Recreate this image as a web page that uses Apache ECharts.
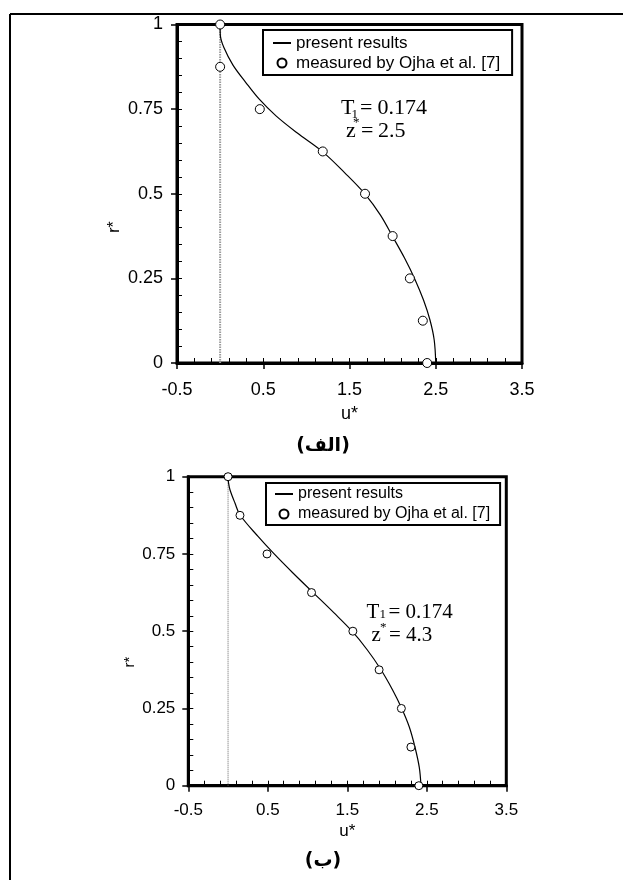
<!DOCTYPE html>
<html>
<head>
<meta charset="utf-8">
<style>
  html, body { margin: 0; padding: 0; background: #fff; }
  #chart { width: 623px; height: 880px; }
</style>
<script src="https://cdn.jsdelivr.net/npm/echarts@6/dist/echarts.min.js"></script>
</head>
<body>
<div id="chart"></div>
<script>
// Radial positions of the measured points
const rMeasured = [1, 0.875, 0.75, 0.625, 0.5, 0.375, 0.25, 0.125, 0];

// Case (الف): z* = 2.5
const uMeasuredA = [0, 0, 0.46, 1.19, 1.68, 2.0, 2.2, 2.35, 2.4];
const uCurveA = [0, 0.002, 0.045, 0.149, 0.294, 0.451, 0.648, 0.891, 1.193, 1.448, 1.68, 1.859, 2.001, 2.138, 2.259, 2.358, 2.433, 2.482, 2.5];
const rCurveA = [1, 0.969, 0.931, 0.880, 0.830, 0.780, 0.730, 0.680, 0.623, 0.561, 0.499, 0.437, 0.373, 0.310, 0.247, 0.186, 0.127, 0.068, 0];

// Case (ب): z* = 4.3
const uMeasuredB = [0, 0.15, 0.49, 1.05, 1.57, 1.90, 2.18, 2.30, 2.40];
const uCurveB = [0, 0.006, 0.025, 0.088, 0.151, 0.38, 0.58, 0.81, 1.07, 1.33, 1.56, 1.75, 1.92, 2.07, 2.185, 2.28, 2.35, 2.405, 2.427];
const rCurveB = [1, 0.98, 0.957, 0.914, 0.876, 0.806, 0.75, 0.69, 0.625, 0.56, 0.5, 0.44, 0.377, 0.31, 0.25, 0.19, 0.126, 0.06, 0];

// Reference line u* = 0
const uZero = [0, 0];
const rZero = [0, 1];

// Axis ticks
const uMajorTicks = [-0.5, 0.5, 1.5, 2.5, 3.5];
const uMinorTicks = [-0.5, -0.3, -0.1, 0.1, 0.3, 0.5, 0.7, 0.9, 1.1, 1.3, 1.5, 1.7, 1.9, 2.1, 2.3, 2.5, 2.7, 2.9, 3.1, 3.3, 3.5];

const NAME_LINE = 'present results';
const NAME_PTS = 'measured by Ojha et al. [7]';
const SANS = 'Liberation Sans, Arial, sans-serif';
const SERIF = 'Liberation Serif, Times New Roman, serif';

const pairs = (xs, ys) => xs.map((x, i) => [x, ys[i]]);

const grids = [
  { left: 177, top: 24.5, width: 345, height: 338.5 },
  { left: 188.3, top: 476.7, width: 318, height: 309 }
];
const tickFonts = [18, 17];
const legendFonts = [17, 16];
const labelMarginX = [18, 16];
const labelMarginY = [14, 13];
const nameGaps = [42, 37];

const xAxes = [], yAxes = [], series = [];
grids.forEach((g, k) => {
  const fs = tickFonts[k];
  xAxes.push({
    gridIndex: k, type: 'value', min: -0.5, max: 3.5, position: 'bottom',
    axisLine: { show: true, onZero: false, lineStyle: { color: '#000', width: 3 } },
    axisTick: { show: true, inside: false, length: 6, customValues: uMajorTicks, lineStyle: { color: '#000', width: 1.5 } },
    axisLabel: { show: true, customValues: uMajorTicks, margin: labelMarginX[k], color: '#000', fontSize: fs, fontFamily: SANS },
    splitLine: { show: false },
    name: 'u*', nameLocation: 'middle', nameGap: nameGaps[k],
    nameTextStyle: { color: '#000', fontSize: fs, fontFamily: SANS }
  });
  xAxes.push({
    gridIndex: k, type: 'value', min: -0.5, max: 3.5, position: 'bottom',
    axisLine: { show: false, onZero: false },
    axisTick: { show: true, inside: true, length: 5, customValues: uMinorTicks, lineStyle: { color: '#000', width: 1 } },
    axisLabel: { show: false },
    splitLine: { show: false }
  });
  yAxes.push({
    gridIndex: k, type: 'value', min: 0, max: 1, interval: 0.25, position: 'left',
    axisLine: { show: true, onZero: false, lineStyle: { color: '#000', width: 3 } },
    axisTick: { show: true, inside: false, length: 6, lineStyle: { color: '#000', width: 1.5 } },
    axisLabel: { show: true, margin: labelMarginY[k], color: '#000', fontSize: fs, fontFamily: SANS },
    splitLine: { show: false }
  });
  yAxes.push({
    gridIndex: k, type: 'value', min: 0, max: 1, interval: 0.05, position: 'left',
    axisLine: { show: false, onZero: false },
    axisTick: { show: true, inside: true, length: 5, lineStyle: { color: '#000', width: 1 } },
    axisLabel: { show: false },
    splitLine: { show: false }
  });
});

const curves = [pairs(uCurveA, rCurveA), pairs(uCurveB, rCurveB)];
const points = [pairs(uMeasuredA, rMeasured), pairs(uMeasuredB, rMeasured)];
const zeroStyles = [
  { color: '#9c9c9c', width: 2, type: [1.5, 1] },
  { color: '#666', width: 1, type: 'dotted' }
];
const symSizes = [9, 8];

grids.forEach((g, k) => {
  series.push({
    name: 'u* = 0', type: 'line', xAxisIndex: 2 * k, yAxisIndex: 2 * k,
    data: pairs(uZero, rZero), symbol: 'none', lineStyle: zeroStyles[k],
    silent: true, z: 1
  });
  series.push({
    name: NAME_LINE, type: 'line', xAxisIndex: 2 * k, yAxisIndex: 2 * k,
    data: curves[k], symbol: 'none', showSymbol: false, smooth: 0.35,
    lineStyle: { color: '#000', width: 1.2 }, itemStyle: { color: '#000' }, z: 2
  });
  series.push({
    name: NAME_PTS, type: 'scatter', xAxisIndex: 2 * k, yAxisIndex: 2 * k,
    data: points[k], symbol: 'circle', symbolSize: symSizes[k], clip: false,
    itemStyle: { color: '#fff', borderColor: '#000', borderWidth: 1, opacity: 1 }, z: 3
  });
});

const legendBase = (k, left, top, pad) => ({
  orient: 'vertical', left, top, padding: pad,
  itemGap: 0, itemWidth: 18, itemHeight: 9,
  borderColor: '#000', borderWidth: 2, backgroundColor: '#fff',
  data: [
    { name: NAME_LINE, itemStyle: { opacity: 0 } },
    { name: NAME_PTS, icon: 'circle' }
  ],
  textStyle: { color: '#000', fontSize: legendFonts[k], fontFamily: SANS, lineHeight: 20 },
  selectedMode: false
});

// Text helper for the annotation pieces
const txt = (x, y, s, size) => ({
  type: 'text', x, y,
  style: { text: s, fill: '#000', font: size + 'px ' + SERIF, textAlign: 'left', textVerticalAlign: 'middle' }
});

const graphic = [
  // page frame
  { type: 'line', shape: { x1: 10, y1: 14, x2: 623, y2: 14 }, style: { stroke: '#000', lineWidth: 2 } },
  { type: 'line', shape: { x1: 10, y1: 14, x2: 10, y2: 880 }, style: { stroke: '#000', lineWidth: 2 } },
  // r* axis titles
  { type: 'text', x: 115, y: 227, rotation: Math.PI / 2,
    style: { text: 'r*', fill: '#000', font: '16px ' + SANS, textAlign: 'center', textVerticalAlign: 'middle' } },
  { type: 'text', x: 130, y: 662, rotation: Math.PI / 2,
    style: { text: 'r*', fill: '#000', font: '15px ' + SANS, textAlign: 'center', textVerticalAlign: 'middle' } },
  // captions
  { type: 'text', x: 323, y: 446,
    style: { text: '(الف)', fill: '#000', font: 'bold 19px DejaVu Sans, sans-serif', textAlign: 'center', textVerticalAlign: 'middle' } },
  { type: 'text', x: 323, y: 861,
    style: { text: '(ب)', fill: '#000', font: 'bold 19px DejaVu Sans, sans-serif', textAlign: 'center', textVerticalAlign: 'middle' } },
  // annotations, case (الف)
  txt(341, 108.2, 'T', 22),
  txt(351.5, 115, '1', 13),
  txt(360, 108.2, '=', 22),
  txt(377.5, 108.2, '0.174', 22),
  txt(346, 131.5, 'z', 22),
  txt(353, 123, '*', 13),
  txt(361, 131.5, '=', 22),
  txt(378, 131.5, '2.5', 22),
  // annotations, case (ب)
  txt(366.5, 612, 'T', 21),
  txt(379.5, 615, '1', 13),
  txt(388.5, 612, '=', 21),
  txt(405.5, 612, '0.174', 21),
  txt(371.5, 635.5, 'z', 21),
  txt(380, 627.4, '*', 13),
  txt(389, 635.5, '=', 21),
  txt(406, 635.5, '4.3', 21)
];

const chart = echarts.init(document.getElementById('chart'), null, { renderer: 'canvas' });
chart.setOption({
  backgroundColor: '#fff',
  animation: false,
  grid: grids.map(g => Object.assign({ show: true, borderColor: '#000', borderWidth: 3, backgroundColor: 'transparent', containLabel: false }, g)),
  xAxis: xAxes,
  yAxis: yAxes,
  legend: [
    legendBase(0, 263, 30, [3, 12, 2, 9]),
    legendBase(1, 266, 483, [1, 10, 1, 8])
  ],
  series,
  graphic
});
</script>
</body>
</html>
